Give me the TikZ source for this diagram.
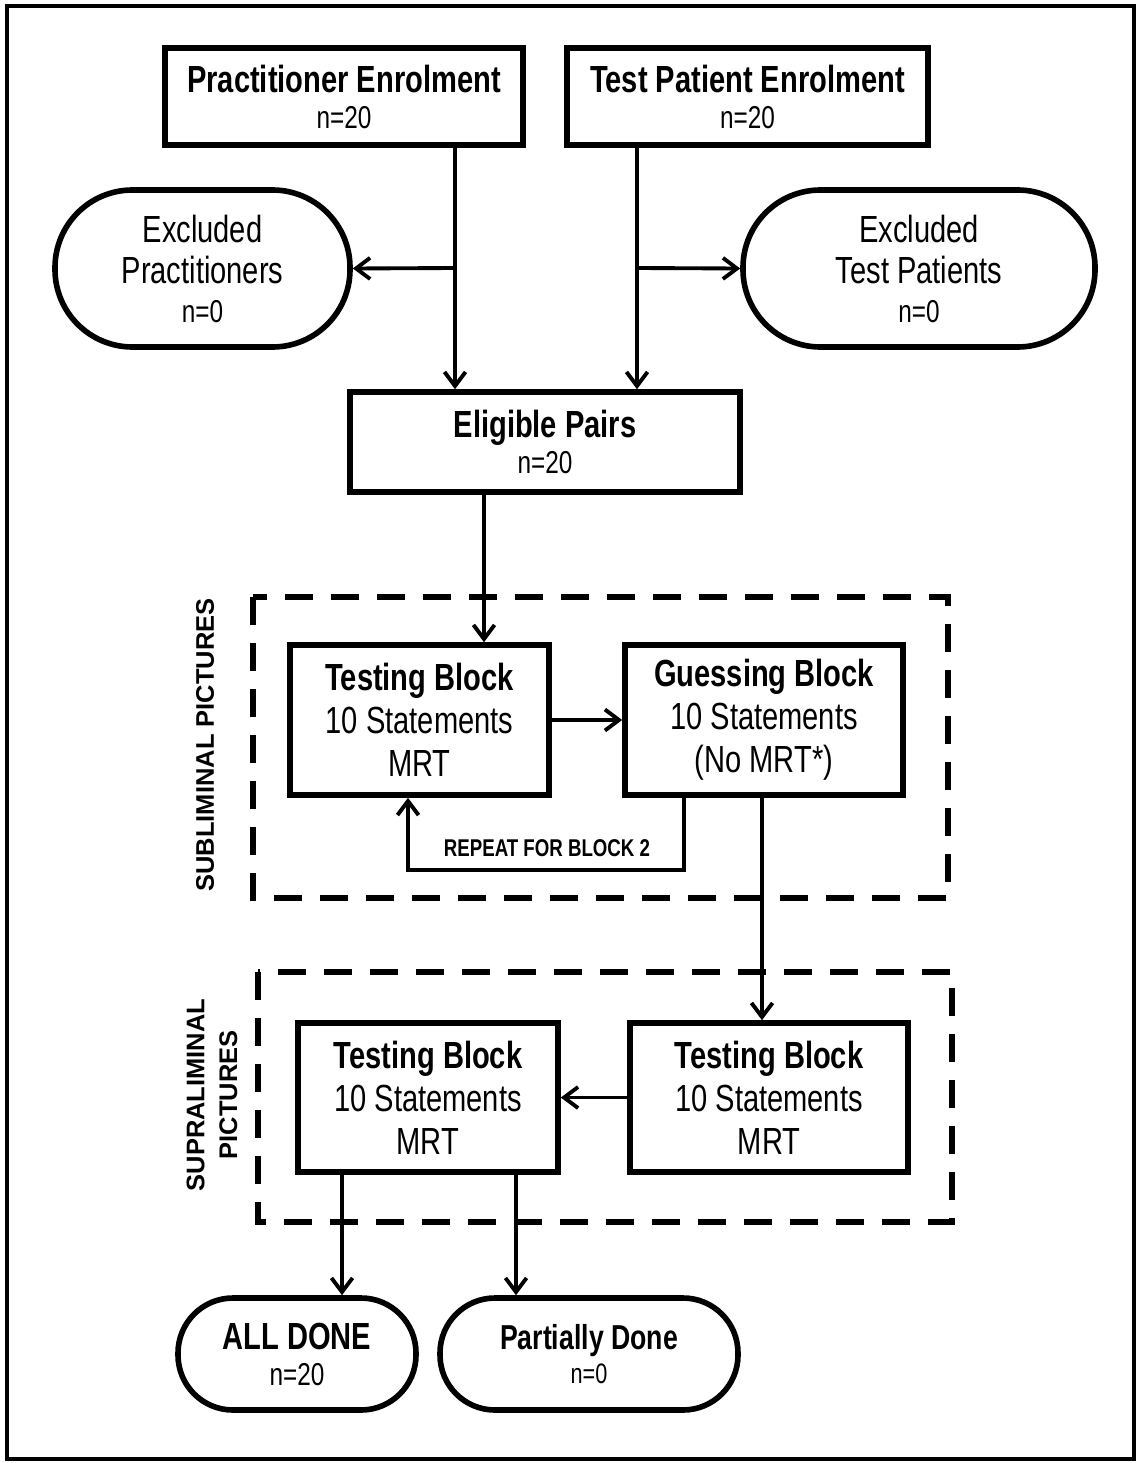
\documentclass[tikz,border=0pt]{standalone}
\usepackage{fontspec}
\setmainfont{Liberation Sans}[FakeStretch=0.77]
\newfontfamily\lblfont{Liberation Sans}
\usetikzlibrary{arrows.meta}
\tikzset{
  box/.style={draw, line width=3.2pt, rectangle, inner sep=0pt, align=center,
    font=\fontsize{21.5}{24.5}\selectfont},
  pill/.style={box, rounded corners=#1},
  arr/.style={line width=2.2pt, -{Straight Barb[length=8pt,width=12pt,line width=2.2pt]}},
  conn/.style={line width=2.2pt},
  group/.style={line width=3pt, dash pattern=on 0.56cm off 0.36cm},
  side/.style={rotate=90, align=center, font=\lblfont\bfseries\fontsize{14.5}{18.7}\selectfont},
}
\newcommand{\nsmall}[1]{{\fontsize{18}{21}\selectfont #1}}
\begin{document}
\begin{tikzpicture}[x=0.02cm,y=-0.02cm]
\useasboundingbox (0,0) rectangle (1140,1463);
\draw[line width=2pt] (7,6) rectangle (1134,1459);

% top boxes
\node[box, minimum width=358*0.02cm, minimum height=97*0.02cm] (pe) at (344,96.5)
  {\textbf{Practitioner Enrolment}\\[-4pt]\nsmall{n=20}};
\node[box, minimum width=361*0.02cm, minimum height=97*0.02cm] (tp) at (747.5,96.5)
  {\textbf{Test Patient Enrolment}\\[-4pt]\nsmall{n=20}};

\node[pill=1.55cm, minimum width=295*0.02cm, minimum height=157*0.02cm] (ep) at (202.5,268.5)
  {Excluded\\[-1pt]Practitioners\\[-2.5pt]\nsmall{n=0}};
\node[pill=1.55cm, minimum width=352*0.02cm, minimum height=157*0.02cm] (et) at (919,268.5)
  {Excluded\\[-1pt]Test Patients\\[-2.5pt]\nsmall{n=0}};

\node[box, minimum width=390*0.02cm, minimum height=100*0.02cm] (el) at (545,442)
  {\textbf{Eligible Pairs}\\[-4pt]\nsmall{n=20}};

% subliminal group
\draw[group] (253,597) rectangle (948,898);
\node[side] (sl) at (205,745) {SUBLIMINAL PICTURES};
\node[box, minimum width=259*0.02cm, minimum height=150*0.02cm] (tb1) at (419.5,720)
  {\textbf{Testing Block}\\10 Statements\\MRT};
\node[box, minimum width=278*0.02cm, minimum height=150*0.02cm] (gb) at (764,720)
  {\textbf{Guessing Block}\\10 Statements\\(No MRT*)};

% supraliminal group
\draw[group] (258,972) rectangle (952,1222);
\node[side] (sp) at (212,1095) {SUPRALIMINAL\\PICTURES};
\node[box, minimum width=260*0.02cm, minimum height=149*0.02cm] (tb2) at (428,1097.5)
  {\textbf{Testing Block}\\10 Statements\\MRT};
\node[box, minimum width=278*0.02cm, minimum height=149*0.02cm] (tb3) at (769,1097.5)
  {\textbf{Testing Block}\\10 Statements\\MRT};

% end nodes
\node[pill=1.1cm, minimum width=238*0.02cm, minimum height=112*0.02cm] (ad) at (297,1354)
  {\textbf{ALL DONE}\\[-4pt]\nsmall{n=20}};
\node[pill=1.1cm, minimum width=298*0.02cm, minimum height=112*0.02cm] (pd) at (589,1354)
  {\textbf{\fontsize{19.7}{23}\selectfont Partially Done}\\[-5pt]{\fontsize{16}{19}\selectfont n=0}};

% connectors
\coordinate (jp) at (455,268);
\coordinate (jt) at (637,268);
\draw[arr] (pe.south -| jp) -- (el.north -| jp);
\draw[arr] (jp) -- (ep.east);
\draw[arr] (tp.south -| jt) -- (el.north -| jt);
\draw[arr] (jt) -- (et.west);

\coordinate (xe) at (484,0);
\draw[arr] (el.south -| xe) -- (tb1.north -| xe);
\draw[arr] (tb1.east) -- (gb.west);

\coordinate (r1) at (684,870);
\coordinate (r2) at (408,870);
\draw[arr] (gb.south -| r1) -- (r1) -- (r2) -- (tb1.south -| r2);
\node[font=\bfseries\fontsize{13.8}{16}\selectfont] (rl) at (547,848) {REPEAT FOR BLOCK 2};

\coordinate (xg) at (762,0);
\draw[arr] (gb.south -| xg) -- (tb3.north -| xg);
\draw[arr] (tb3.west) -- (tb2.east);

\coordinate (xa) at (342,0);
\coordinate (xp) at (516,0);
\draw[arr] (tb2.south -| xa) -- (ad.north -| xa);
\draw[arr] (tb2.south -| xp) -- (pd.north -| xp);
\end{tikzpicture}
\end{document}
